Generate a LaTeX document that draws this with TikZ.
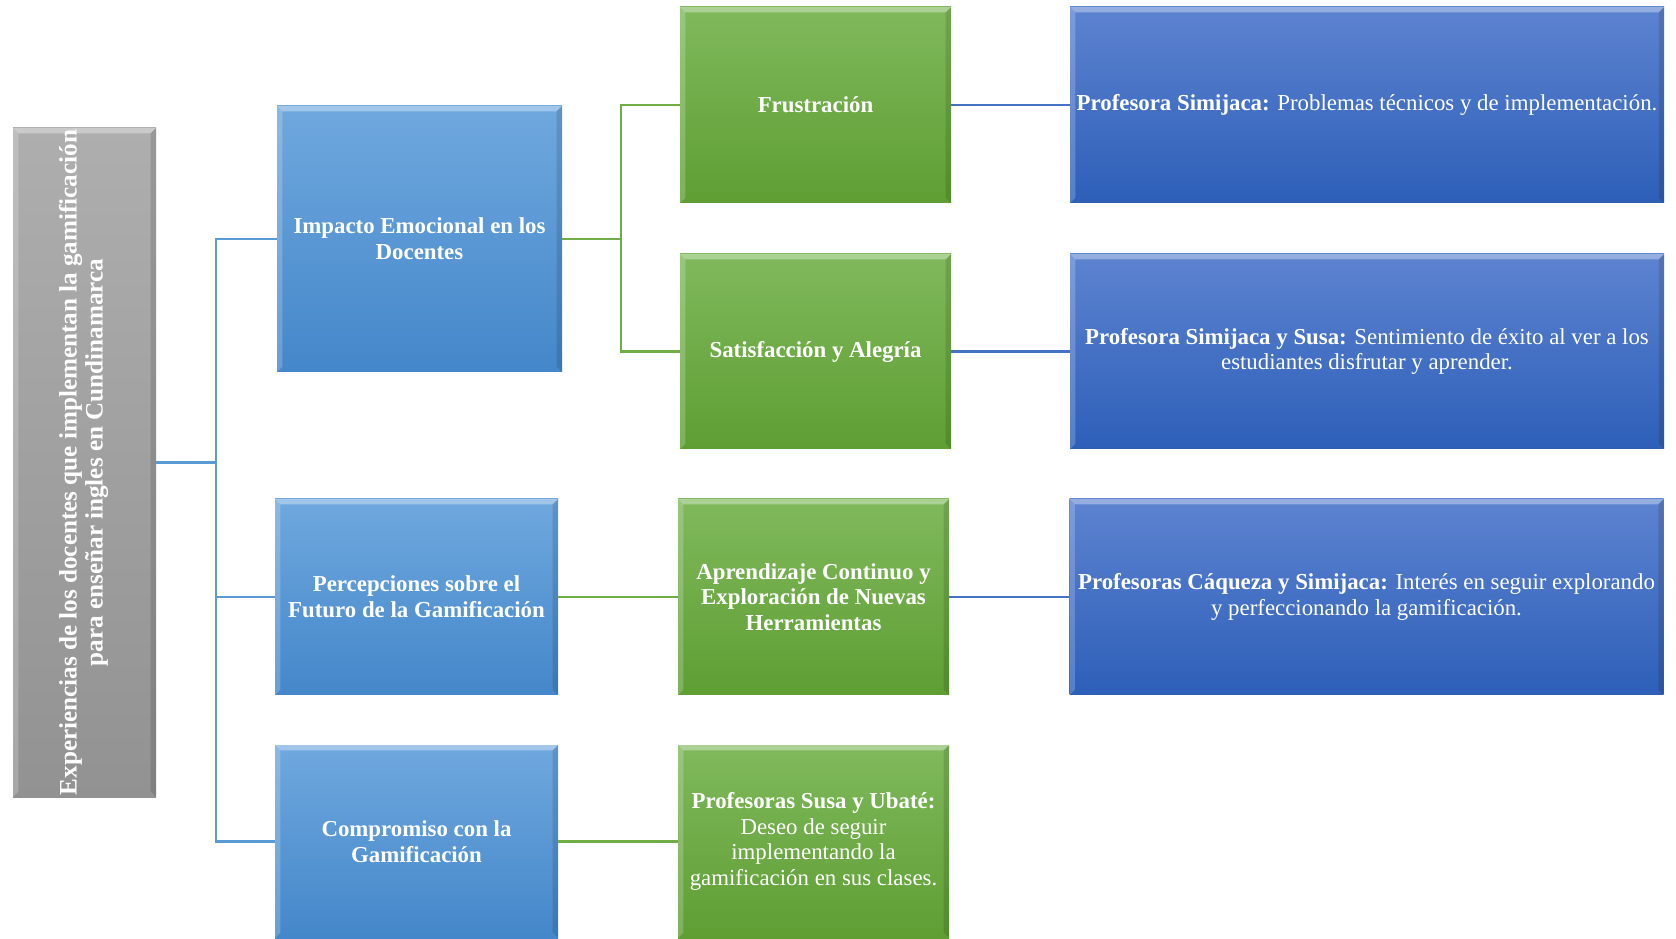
\documentclass[tikz,border=0pt]{standalone}
\usepackage{fontspec}
\setmainfont{Liberation Serif}
\definecolor{graytop}{HTML}{AEAEAE}
\definecolor{graybot}{HTML}{929292}
\definecolor{bluetop}{HTML}{6FA8DE}
\definecolor{bluebot}{HTML}{4487CA}
\definecolor{greentop}{HTML}{80B95C}
\definecolor{greenbot}{HTML}{5E9E33}
\definecolor{navytop}{HTML}{5D83D0}
\definecolor{navybot}{HTML}{2D5FB8}
\definecolor{bluelinecol}{HTML}{5B9BD5}
\definecolor{greenlinecol}{HTML}{70AD47}
\definecolor{navylinecol}{HTML}{4472C4}
\begin{document}
\begin{tikzpicture}[
		box/.style={rectangle, inner sep=2pt, align=center, text=white,
			font=\fontsize{13}{14.6}\selectfont\bfseries,
			path picture={
				\fill[white, opacity=0.35] (path picture bounding box.north west) -- (path picture bounding box.north east)
					-- ([xshift=-3pt,yshift=-3pt]path picture bounding box.north east) -- ([xshift=3pt,yshift=-3pt]path picture bounding box.north west) -- cycle;
				\fill[white, opacity=0.2] (path picture bounding box.north west) -- (path picture bounding box.south west)
					-- ([xshift=3pt,yshift=3pt]path picture bounding box.south west) -- ([xshift=3pt,yshift=-3pt]path picture bounding box.north west) -- cycle;
				\fill[black, opacity=0.12] (path picture bounding box.north east) -- (path picture bounding box.south east)
					-- ([xshift=-3pt,yshift=3pt]path picture bounding box.south east) -- ([xshift=-3pt,yshift=-3pt]path picture bounding box.north east) -- cycle;
			}},
		graybox/.style={box, top color=graytop, bottom color=graybot, minimum width=2.86cm, minimum height=13.38cm, inner sep=0pt,
			font=\fontsize{14.3}{14.8}\selectfont\bfseries},
		bluebox/.style={box, top color=bluetop, bottom color=bluebot, minimum width=5.66cm, minimum height=3.92cm},
		greenbox/.style={box, top color=greentop, bottom color=greenbot, minimum width=5.42cm, minimum height=3.92cm},
		navybox/.style={box, top color=navytop, bottom color=navybot, minimum width=11.88cm, minimum height=3.92cm,
			font=\fontsize{13}{14.6}\selectfont},
		bluelink/.style={draw=bluelinecol, line width=1.2pt},
		greenlink/.style={draw=greenlinecol, line width=1.2pt},
		navylink/.style={draw=navylinecol, line width=1.2pt},
	]
	\useasboundingbox (0,0) rectangle (33.52,18.76);
	% root
	\node[graybox] (root) at (1.69, 9.51) {\rotatebox{90}{\makebox[0pt]{\begin{tabular}{@{}c@{}}Experiencias de los docentes que implementan la gamificación\\para enseñar ingles en Cundinamarca\end{tabular}}}};
	% categories
	\node[bluebox, minimum width=5.70cm, minimum height=5.32cm] (imp) at (8.39, 13.98) {Impacto Emocional en los\\Docentes};
	\node[bluebox] (perc) at (8.33, 6.82) {Percepciones sobre el\\Futuro de la Gamificación};
	\node[bluebox, minimum height=3.86cm] (comp) at (8.33, 1.93) {Compromiso con la\\Gamificación};
	% subcategories
	\node[greenbox] (frus) at (16.31, 16.66) {Frustración};
	\node[greenbox, minimum height=3.90cm] (sat) at (16.31, 11.73) {Satisfacción y Alegría};
	\node[greenbox] (apr) at (16.27, 6.82) {Aprendizaje Continuo y\\Exploración de Nuevas\\Herramientas};
	\node[greenbox, minimum height=3.86cm, font=\fontsize{13}{14.6}\selectfont] (deseo) at (16.27, 1.93) {\textbf{Profesoras Susa y Ubaté:}\\Deseo de seguir\\implementando la\\gamificación en sus clases.};
	% testimonies
	\node[navybox] (simi) at (27.34, 16.66) {\textbf{Profesora Simijaca:} Problemas técnicos y de implementación.};
	\node[navybox, minimum height=3.90cm] (susa) at (27.34, 11.73) {\textbf{Profesora Simijaca y Susa:} Sentimiento de éxito al ver a los\\estudiantes disfrutar y aprender.};
	\node[navybox] (caq) at (27.33, 6.82) {\textbf{Profesoras Cáqueza y Simijaca:} Interés en seguir explorando\\y perfeccionando la gamificación.};
	% connectors
	\coordinate (fork0) at (4.32, 9.51);
	\coordinate (fork1) at (12.42, 13.98);
	\draw[bluelink] (root.east) -- (fork0);
	\draw[bluelink] (fork0) |- (imp.west);
	\draw[bluelink] (fork0) |- (perc.west);
	\draw[bluelink] (fork0) |- (comp.west);
	\draw[greenlink] (imp.east) -- (fork1);
	\draw[greenlink] (fork1) |- (frus.west);
	\draw[greenlink] (fork1) |- (sat.west);
	\draw[greenlink] (perc.east) -- (apr.west);
	\draw[greenlink] (comp.east) -- (deseo.west);
	\draw[navylink] (frus.east) -- (simi.west);
	\draw[navylink] (sat.east) -- (susa.west);
	\draw[navylink] (apr.east) -- (caq.west);
\end{tikzpicture}
\end{document}
